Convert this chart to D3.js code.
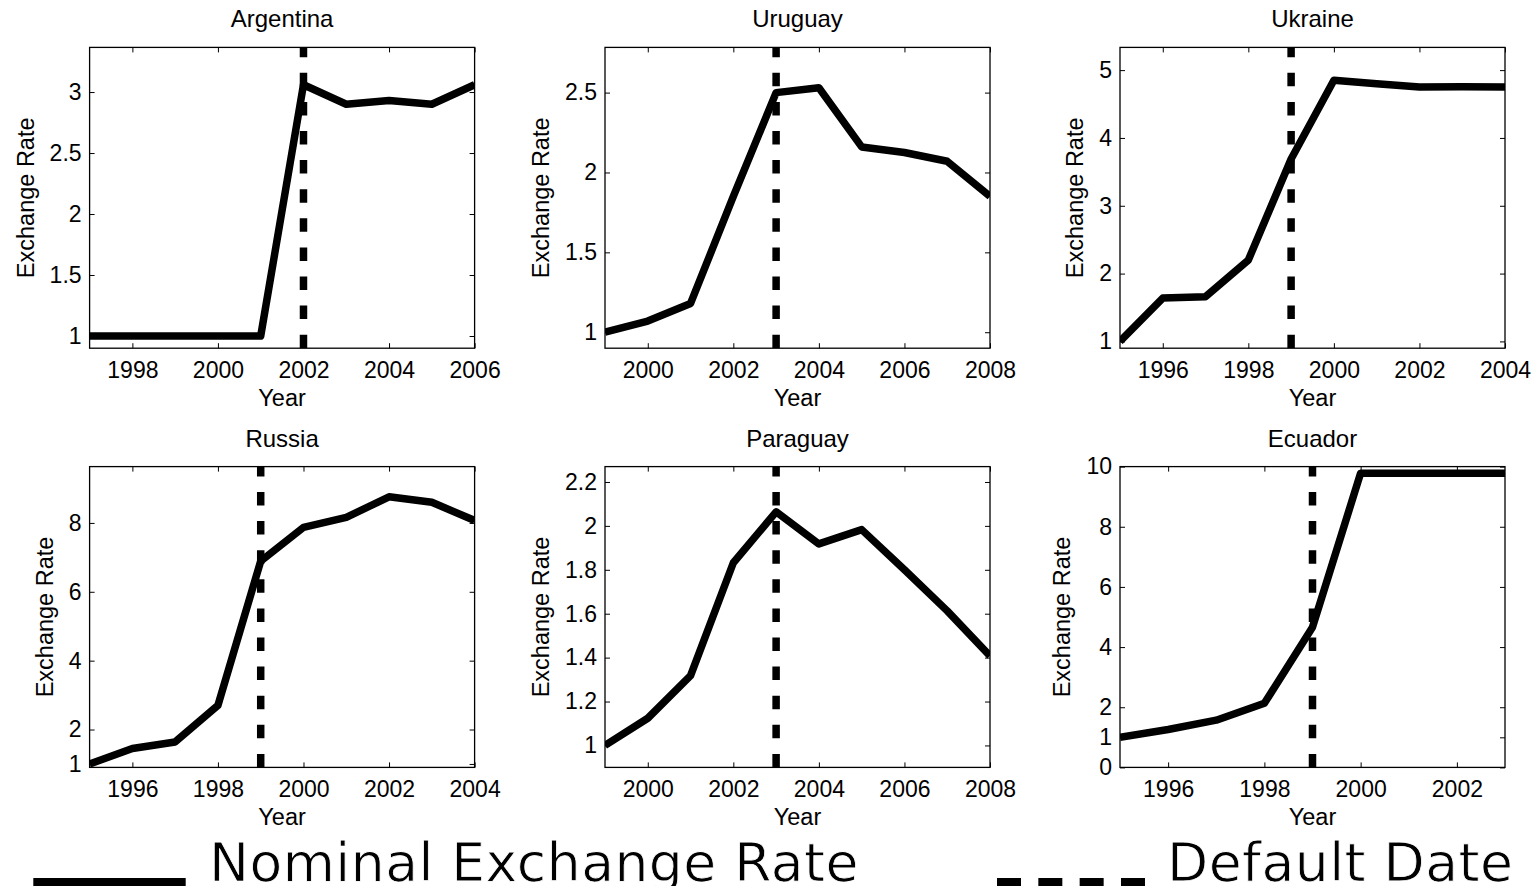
<!DOCTYPE html>
<html><head><meta charset="utf-8">
<script src="https://cdn.jsdelivr.net/npm/d3@7"></script>
<style>
html,body{margin:0;padding:0;background:#fff;}
svg{display:block;}
</style></head><body>
<svg id="chart" width="1539" height="886"></svg>
<script>
// ---- data (nominal exchange rate, normalised to first year = 1) ----
const countries = ["Argentina", "Uruguay", "Ukraine", "Russia", "Paraguay", "Ecuador"];

const argentinaYears = [1997, 1998, 1999, 2000, 2001, 2002, 2003, 2004, 2005, 2006];
const argentinaRate  = [1.00, 1.00, 1.00, 1.00, 1.00, 3.06, 2.90, 2.93, 2.90, 3.06];

const uruguayYears = [1999, 2000, 2001, 2002, 2003, 2004, 2005, 2006, 2007, 2008];
const uruguayRate  = [1.00, 1.07, 1.18, 1.85, 2.50, 2.53, 2.16, 2.125, 2.07, 1.85];

const ukraineYears = [1995, 1996, 1997, 1998, 1999, 2000, 2001, 2002, 2003, 2004];
const ukraineRate  = [1.00, 1.64, 1.66, 2.20, 3.69, 4.85, 4.80, 4.75, 4.755, 4.75];

const russiaYears = [1995, 1996, 1997, 1998, 1999, 2000, 2001, 2002, 2003, 2004];
const russiaRate  = [1.00, 1.45, 1.64, 2.70, 6.89, 7.87, 8.16, 8.76, 8.60, 8.07];

const paraguayYears = [1999, 2000, 2001, 2002, 2003, 2004, 2005, 2006, 2007, 2008];
const paraguayRate  = [1.00, 1.124, 1.318, 1.832, 2.064, 1.918, 1.983, 1.80, 1.613, 1.408];

const ecuadorYears = [1995, 1996, 1997, 1998, 1999, 2000, 2001, 2002, 2003];
const ecuadorRate  = [1.00, 1.26, 1.57, 2.13, 4.66, 9.78, 9.78, 9.78, 9.78];

const defaultYears = [2002, 2003, 1999, 1999, 2003, 1999];

const xDomains = [[1997, 2006], [1999, 2008], [1995, 2004], [1995, 2004], [1999, 2008], [1995, 2003]];
const yDomains = [[0.9, 3.366], [0.9, 2.783], [0.9, 5.335], [0.9, 9.636], [0.9, 2.27], [0, 10]];

const xTickValues = [
  [1998, 2000, 2002, 2004, 2006],
  [2000, 2002, 2004, 2006, 2008],
  [1996, 1998, 2000, 2002, 2004],
  [1996, 1998, 2000, 2002, 2004],
  [2000, 2002, 2004, 2006, 2008],
  [1996, 1998, 2000, 2002]
];
const yTickValues = [
  [1, 1.5, 2, 2.5, 3],
  [1, 1.5, 2, 2.5],
  [1, 2, 3, 4, 5],
  [1, 2, 4, 6, 8],
  [1, 1.2, 1.4, 1.6, 1.8, 2, 2.2],
  [0, 1, 2, 4, 6, 8, 10]
];

const legendLabels = ["Nominal Exchange Rate", "Default Date"];
const xLabel = "Year";
const yLabel = "Exchange Rate";

// ---- layout ----
const yearsList = [argentinaYears, uruguayYears, ukraineYears, russiaYears, paraguayYears, ecuadorYears];
const rateList  = [argentinaRate, uruguayRate, ukraineRate, russiaRate, paraguayRate, ecuadorRate];

const svg = d3.select("#chart");
const colX = [89.6, 605, 1120];
const rowY = [47.4, 466.6];
const pw = 385, ph = 300.8;
const FONT = "'Liberation Sans', Arial, Helvetica, sans-serif";
const tickFont = 23, labelFont = 23.5, titleFont = 24;
const lineW = 7.5;

countries.forEach((name, i) => {
  const col = i % 3, row = Math.floor(i / 3);
  const g = svg.append("g").attr("transform", `translate(${colX[col]},${rowY[row]})`);
  const x = d3.scaleLinear().domain(xDomains[i]).range([0, pw]);
  const y = d3.scaleLinear().domain(yDomains[i]).range([ph, 0]);

  const clipId = "clip" + i;
  g.append("clipPath").attr("id", clipId)
    .append("rect").attr("width", pw).attr("height", ph);

  const styleAxis = sel => {
    sel.select(".domain").remove();
    sel.attr("font-family", FONT).attr("font-size", tickFont);
    sel.selectAll(".tick line").attr("stroke", "#000").attr("stroke-width", 1);
    sel.selectAll(".tick text").attr("fill", "#000");
  };

  g.append("g").attr("transform", `translate(0,${ph})`)
    .call(d3.axisBottom(x).tickValues(xTickValues[i]).tickSize(-5).tickSizeOuter(0)
      .tickPadding(13).tickFormat(d3.format("d")))
    .call(styleAxis);
  const leftAx = g.append("g")
    .call(d3.axisLeft(y).tickValues(yTickValues[i]).tickSize(-5).tickSizeOuter(0)
      .tickPadding(8).tickFormat(d => String(d)))
    .call(styleAxis);
  g.append("g")
    .call(d3.axisTop(x).tickValues(xTickValues[i]).tickSize(-5).tickSizeOuter(0).tickFormat(""))
    .call(styleAxis);
  g.append("g").attr("transform", `translate(${pw},0)`)
    .call(d3.axisRight(y).tickValues(yTickValues[i]).tickSize(-5).tickSizeOuter(0).tickFormat(""))
    .call(styleAxis);

  g.append("rect").attr("width", pw).attr("height", ph)
    .attr("fill", "none").attr("stroke", "#000").attr("stroke-width", 1.3);

  const pts = yearsList[i].map((yr, k) => [yr, rateList[i][k]]);
  g.append("path").datum(pts)
    .attr("clip-path", `url(#${clipId})`)
    .attr("fill", "none").attr("stroke", "#000").attr("stroke-width", lineW)
    .attr("stroke-linejoin", "round").attr("stroke-linecap", "butt")
    .attr("d", d3.line().x(d => x(d[0])).y(d => y(d[1])));

  g.append("line")
    .attr("clip-path", `url(#${clipId})`)
    .attr("x1", x(defaultYears[i])).attr("x2", x(defaultYears[i]))
    .attr("y1", y(yDomains[i][0])).attr("y2", y(yDomains[i][1]))
    .attr("stroke", "#000").attr("stroke-width", lineW)
    .attr("stroke-dasharray", "13.5 15.6");

  g.append("text").attr("x", pw / 2).attr("y", -20)
    .attr("text-anchor", "middle").attr("font-family", FONT).attr("font-size", titleFont)
    .text(name);
  g.append("text").attr("x", pw / 2).attr("y", ph + 58)
    .attr("text-anchor", "middle").attr("font-family", FONT).attr("font-size", labelFont)
    .text(xLabel);
  let maxW = 0;
  leftAx.selectAll(".tick text").each(function () {
    maxW = Math.max(maxW, this.getComputedTextLength());
  });
  g.append("text")
    .attr("transform", "rotate(-90)")
    .attr("x", -ph / 2).attr("y", -(8 + maxW + 16))
    .attr("text-anchor", "middle").attr("font-family", FONT).attr("font-size", labelFont)
    .text(yLabel);
});

// ---- legend ----
const LFONT = "'DejaVu Sans', 'Bitstream Vera Sans', sans-serif";
const legend = svg.append("g");
legend.append("line")
  .attr("x1", 33.3).attr("x2", 185.7).attr("y1", 882.5).attr("y2", 882.5)
  .attr("stroke", "#000").attr("stroke-width", 9);
legend.append("text").attr("x", 209).attr("y", 881)
  .attr("font-family", LFONT).attr("font-size", 53.5).attr("letter-spacing", 0.5)
  .attr("stroke", "#fff").attr("stroke-width", 0.8)
  .text(legendLabels[0]);
legend.append("line")
  .attr("x1", 997).attr("x2", 1145).attr("y1", 882.5).attr("y2", 882.5)
  .attr("stroke", "#000").attr("stroke-width", 9)
  .attr("stroke-dasharray", "24 17.33");
legend.append("text").attr("x", 1167).attr("y", 881)
  .attr("font-family", LFONT).attr("font-size", 53.5).attr("letter-spacing", 0.5)
  .attr("stroke", "#fff").attr("stroke-width", 0.8)
  .text(legendLabels[1]);
</script>
</body></html>
